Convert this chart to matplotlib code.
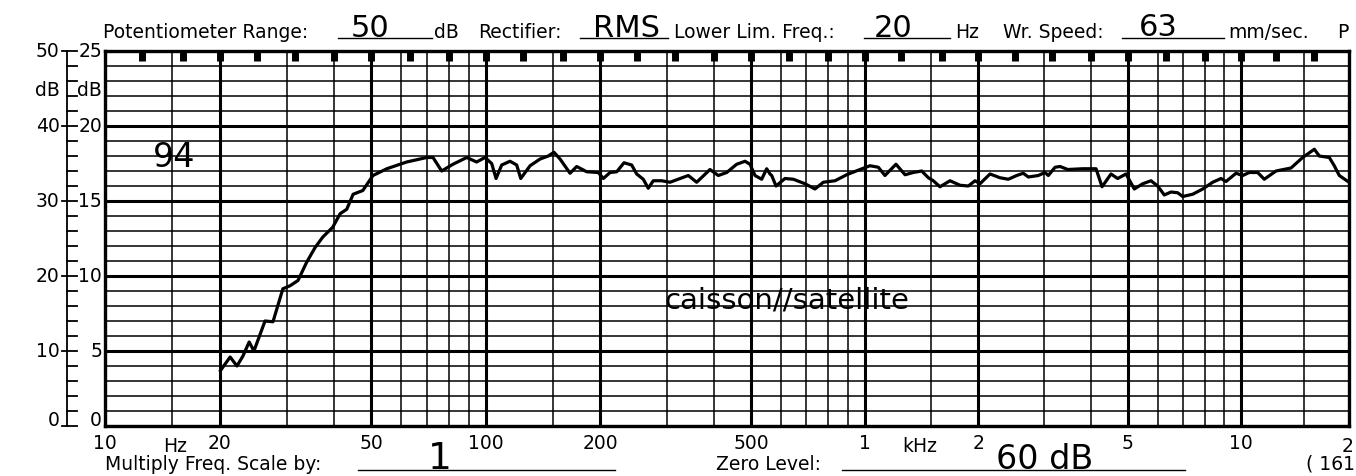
import numpy as np
import matplotlib
matplotlib.use("Agg")
import matplotlib.pyplot as plt

# Frequency response
FREQ_HZ = [
    20.1, 21.3, 22.2, 23.0, 23.9, 24.6, 26.3, 27.6, 29.3, 30.6,
    32.1, 33.8, 35.6, 37.3, 39.6, 41.4, 43.1, 44.8, 47.5, 50.5,
    54.9, 61.9, 69.9, 72.6, 76.5, 81.9, 89.0, 94.5, 99.4, 103.5,
    106.3, 110.0, 115.7, 120.5, 123.5, 130.7, 138.9, 146.0, 151.1, 156.8,
    166.6, 173.5, 184.4, 197.8, 204.0, 212.5, 221.3, 231.3, 242.3, 249.8,
    260.0, 268.0, 276.3, 290.8, 305.8, 325.0, 341.8, 359.7, 389.9, 410.2,
    431.7, 458.6, 482.5, 497.3, 512.6, 533.8, 550.3, 561.5, 567.3, 582.4,
    615.0, 646.9, 694.6, 738.0, 776.2, 833.4, 894.6, 970.0, 1031, 1085,
    1130, 1209, 1278, 1344, 1415, 1474, 1519, 1583, 1683, 1789,
    1883, 1962, 2022, 2150, 2286, 2405, 2532, 2636, 2719, 2890,
    3011, 3073, 3202, 3302, 3460, 3792, 4116, 4270, 4511, 4699,
    4945, 5203, 5478, 5763, 6003, 6252, 6513, 6784, 6998, 7437,
    7910, 8408, 8849, 9124, 9699, 10110, 10546, 11130, 11611, 12517,
    13784, 14856, 16010, 16530, 17625, 18197, 18793, 20000,
]
LEVEL_DB = [
    7.4, 9.2, 8.0, 9.3, 11.2, 10.0, 14.0, 13.9, 18.3, 18.7,
    19.4, 21.8, 23.8, 25.2, 26.5, 28.3, 28.9, 30.9, 31.4, 33.4,
    34.3, 35.2, 35.8, 35.8, 34.0, 34.9, 35.8, 35.2, 35.8, 35.0,
    33.0, 34.8, 35.3, 34.8, 33.0, 34.7, 35.6, 36.0, 36.5, 35.6,
    33.7, 34.6, 33.9, 33.8, 33.0, 33.8, 33.9, 35.1, 34.8, 33.6,
    32.9, 31.7, 32.7, 32.7, 32.5, 33.0, 33.4, 32.5, 34.2, 33.4,
    33.8, 34.9, 35.3, 34.9, 33.4, 32.9, 34.3, 33.6, 33.4, 32.0,
    33.0, 32.9, 32.3, 31.6, 32.5, 32.7, 33.5, 34.2, 34.7, 34.5,
    33.4, 34.9, 33.5, 33.8, 34.0, 33.1, 32.7, 31.9, 32.7, 32.1,
    32.0, 32.7, 32.3, 33.6, 33.1, 32.9, 33.4, 33.7, 33.2, 33.4,
    33.8, 33.4, 34.5, 34.6, 34.2, 34.3, 34.3, 31.9, 33.6, 33.0,
    33.6, 31.6, 32.3, 32.7, 32.0, 30.8, 31.2, 31.1, 30.6, 30.9,
    31.6, 32.5, 33.0, 32.6, 33.7, 33.4, 33.8, 33.8, 32.9, 34.0,
    34.4, 35.8, 36.9, 36.0, 35.8, 34.7, 33.4, 32.5,
]

# printed paper grid
MAJOR_FREQ = [10, 20, 50, 100, 200, 500, 1000, 2000, 5000, 10000]
MAJOR_LABELS = ["10", "20", "50", "100", "200", "500", "1", "2", "5", "10"]
MINOR_FREQ = [m * d for d in (10, 100, 1000) for m in (1.5, 3, 4, 6, 7, 8, 9)] + [15000]
THIRD_OCTAVE = [12.5, 16, 20, 25, 31.5, 40, 50, 63, 80, 100, 125, 160, 200, 250,
                315, 400, 500, 630, 800, 1000, 1250, 1600, 2000, 2500, 3150,
                4000, 5000, 6300, 8000, 10000, 12500, 16000]
LEFT_SCALE = ["0", "10", "20", "30", "40", "50"]
RIGHT_SCALE = ["0", "5", "10", "15", "20", "25"]

# the scanned paper is slightly compressed towards high frequencies
LOG_CAL = [1.0, 2.0, 3.0, 4.0, np.log10(20000)]
POS_CAL = [0.0, 381.0, 760.0, 1136.0, 1244.0]


def fwd(f):
    return np.interp(np.log10(np.clip(f, 1e-3, None)), LOG_CAL, POS_CAL)


def inv(p):
    return 10 ** np.interp(p, POS_CAL, LOG_CAL)


W, H = 1356, 477
FS = 13.5
fig = plt.figure(figsize=(W / 100, H / 100), dpi=100)
ax = fig.add_axes([105 / W, 1 - 427 / H, 1244 / W, 375 / H])
ax.set_xscale("function", functions=(fwd, inv))
ax.set_xlim(10, 20000)
ax.set_ylim(0, 50)

ax.set_xticks(MAJOR_FREQ, labels=MAJOR_LABELS)
ax.set_xticks(MINOR_FREQ, minor=True)
ax.set_yticks(range(0, 51, 10))
ax.set_yticks(range(0, 51, 2), minor=True)
ax.tick_params(axis="both", which="both", length=0)
ax.tick_params(axis="x", labelsize=FS, pad=5)
ax.tick_params(axis="y", labelleft=False)
ax.grid(True, which="major", color="black", lw=2.2)
ax.grid(True, which="minor", color="black", lw=1.1)
ax.set_axisbelow(True)
for s in ax.spines.values():
    s.set_linewidth(2.4)

# 1/3 octave marks hanging from the top edge
ax.vlines(THIRD_OCTAVE, 48.7, 50, colors="black", lw=5, capstyle="butt", zorder=3)

ax.plot(FREQ_HZ, LEVEL_DB, color="black", lw=2.3, zorder=4)

# double dB scale on the left
yt = ax.get_yaxis_transform()
ax.plot([-0.0305, -0.0305], [0, 50], transform=yt, color="black", lw=1.3, clip_on=False)
for v in range(0, 51, 2):
    x0 = -0.0345 if v % 10 == 0 else -0.0305
    ax.plot([x0, -0.0225], [v, v], transform=yt, color="black", lw=1.3, clip_on=False)
for i, (l, r) in enumerate(zip(LEFT_SCALE, RIGHT_SCALE)):
    yv = i * 10 if i else 0.8
    ax.text(-0.0365, yv, l, transform=yt, ha="right", va="center", fontsize=FS)
    ax.text(-0.0024, yv, r, transform=yt, ha="right", va="center", fontsize=FS)
ax.text(-0.0365, 44.8, "dB", transform=yt, ha="right", va="center", fontsize=FS)
ax.text(-0.0024, 44.8, "dB", transform=yt, ha="right", va="center", fontsize=FS)

xt = ax.get_xaxis_transform()
ax.text(1.0035, -0.052, "2", transform=ax.transAxes, ha="right", va="center",
        fontsize=FS, clip_on=False)
ax.text(15.3, -0.052, "Hz", transform=xt, ha="center", va="center", fontsize=FS)
ax.text(1400, -0.052, "kHz", transform=xt, ha="center", va="center", fontsize=FS)

# handwritten notes on the chart
ax.text(15.2, 35.9, "94", ha="center", va="center", fontsize=24)
ax.text(620, 16.9, "caisson//satellite", ha="center", va="center", fontsize=21)

# form text around the paper (pixel overlay)
ov = fig.add_axes([0, 0, 1, 1])
ov.set_xlim(0, W)
ov.set_ylim(H, 0)
ov.axis("off")

printed = [
    (103, 38, "Potentiometer Range:"), (434, 38, "dB"), (478, 38, "Rectifier:"),
    (674, 38, "Lower Lim. Freq.:"), (955, 38, "Hz"), (1003, 38, "Wr. Speed:"),
    (1228, 38, "mm/sec."), (1337, 38, "P"),
    (105, 470, "Multiply Freq. Scale by:"), (716, 470, "Zero Level:"),
]
for x, y, s in printed:
    ov.text(x, y, s, ha="left", va="baseline", fontsize=FS)
ov.text(1355, 470, "( 161", ha="right", va="baseline", fontsize=FS)

for x0, x1, y in [(338, 432, 39), (580, 668, 39), (864, 950, 39), (1122, 1224, 39),
                  (358, 615, 471), (842, 1185, 471)]:
    ov.plot([x0, x1], [y, y], color="black", lw=1.0)

hand = [(370, 37, "50", 22), (626, 37, "RMS", 22), (893, 37, "20", 22),
        (1158, 36, "63", 22), (440, 469, "1", 27), (1045, 469, "60 dB", 24)]
for x, y, s, fs in hand:
    ov.text(x, y, s, ha="center", va="baseline", fontsize=fs)

fig.savefig("out.png", dpi=100)
